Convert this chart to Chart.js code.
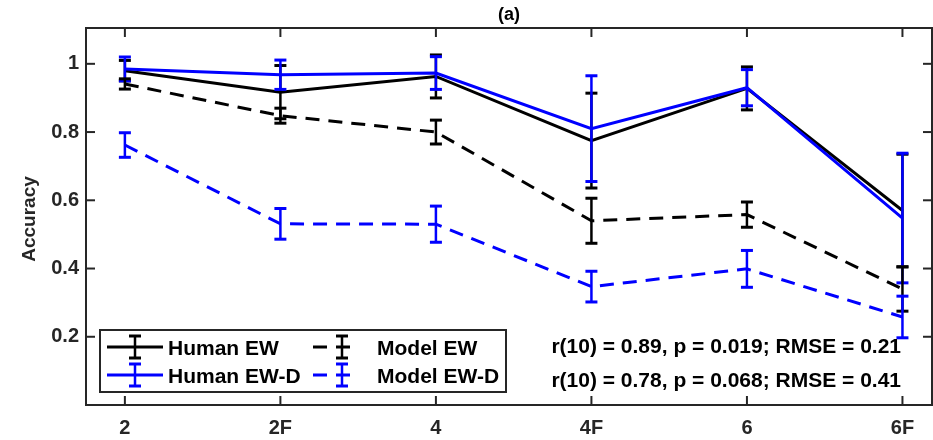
<!DOCTYPE html>
<html>
<head>
<meta charset="utf-8">
<script src="https://cdn.jsdelivr.net/npm/chart.js@4.4.1/dist/chart.umd.min.js"></script>
<style>
  html, body { margin: 0; padding: 0; background: #fff; }
  canvas { display: block; }
</style>
</head>
<body>
<canvas id="accChart" width="933" height="440"></canvas>
<script>
// data
const categories = ['2', '2F', '4', '4F', '6', '6F'];
const yTicks = [0.2, 0.4, 0.6, 0.8, 1];

const humanEW      = [0.980, 0.917, 0.963, 0.775, 0.928, 0.570];
const humanEWErr   = [0.030, 0.078, 0.063, 0.139, 0.063, 0.165];
const humanEWD     = [0.985, 0.968, 0.973, 0.810, 0.930, 0.548];
const humanEWDErr  = [0.035, 0.043, 0.048, 0.155, 0.053, 0.190];
const modelEW      = [0.941, 0.848, 0.800, 0.540, 0.558, 0.340];
const modelEWErr   = [0.015, 0.022, 0.035, 0.066, 0.037, 0.065];
const modelEWD     = [0.762, 0.531, 0.530, 0.347, 0.399, 0.258];
const modelEWDErr  = [0.036, 0.045, 0.053, 0.045, 0.054, 0.061];

const statLines = [
  'r(10) = 0.89, p = 0.019; RMSE = 0.21',
  'r(10) = 0.78, p = 0.068; RMSE = 0.41'
];

const FONT = '"Liberation Sans", Arial, Helvetica, sans-serif';
const AXIS_COLOR = '#262626';
const DASH = [14, 9];

function pts(vals) {
  return vals.map((v, i) => ({x: i, y: v}));
}

function makeSet(label, vals, errs, color, dashed, order) {
  return {
    label: label,
    data: pts(vals),
    errors: errs,
    borderColor: color,
    backgroundColor: color,
    borderWidth: 3,
    borderDash: dashed ? DASH : [],
    pointRadius: 0,
    tension: 0,
    order: order
  };
}

const datasets = [
  makeSet('Human EW', humanEW, humanEWErr, '#000000', false, 4),
  makeSet('Human EW-D', humanEWD, humanEWDErr, '#0000ff', false, 3),
  makeSet('Model EW', modelEW, modelEWErr, '#000000', true, 2),
  makeSet('Model EW-D', modelEWD, modelEWDErr, '#0000ff', true, 1)
];

function seg(ctx, x1, y1, x2, y2) {
  ctx.beginPath();
  ctx.moveTo(x1, y1);
  ctx.lineTo(x2, y2);
  ctx.stroke();
}

function drawErrBar(ctx, x, yHi, yLo, color) {
  ctx.save();
  ctx.strokeStyle = color;
  ctx.setLineDash([]);
  ctx.lineWidth = 2.5;
  seg(ctx, x, yHi, x, yLo);
  ctx.lineWidth = 3;
  seg(ctx, x - 6, yHi, x + 6, yHi);
  seg(ctx, x - 6, yLo, x + 6, yLo);
  ctx.restore();
}

const errorBars = {
  id: 'errorBars',
  afterDatasetDraw(chart, args) {
    const ds = chart.data.datasets[args.index];
    const yScale = chart.scales.y;
    args.meta.data.forEach((pt, i) => {
      const v = ds.data[i].y;
      const e = ds.errors[i];
      drawErrBar(chart.ctx, pt.x, yScale.getPixelForValue(v + e), yScale.getPixelForValue(v - e), ds.borderColor);
    });
  }
};

const frame = {
  id: 'frame',
  afterDraw(chart) {
    const ctx = chart.ctx;
    const a = chart.chartArea;
    const xs = chart.scales.x, ys = chart.scales.y;
    ctx.save();

    // box + inward ticks
    ctx.strokeStyle = AXIS_COLOR;
    ctx.lineWidth = 2;
    ctx.strokeRect(a.left, a.top, a.right - a.left, a.bottom - a.top);
    categories.forEach((c, i) => {
      const x = xs.getPixelForValue(i);
      seg(ctx, x, a.bottom, x, a.bottom - 9);
      seg(ctx, x, a.top, x, a.top + 9);
    });
    yTicks.forEach(v => {
      const y = ys.getPixelForValue(v);
      seg(ctx, a.left, y, a.left + 9, y);
      seg(ctx, a.right, y, a.right - 9, y);
    });

    // title
    ctx.fillStyle = '#000';
    ctx.font = 'bold 18px ' + FONT;
    ctx.textAlign = 'center';
    ctx.textBaseline = 'middle';
    ctx.fillText('(a)', (a.left + a.right) / 2, 15);

    // y label
    ctx.save();
    ctx.translate(30, 219);
    ctx.rotate(-Math.PI / 2);
    ctx.font = 'bold 19px ' + FONT;
    ctx.fillStyle = '#262626';
    ctx.fillText('Accuracy', 0, 0);
    ctx.restore();

    // legend
    ctx.fillStyle = '#fff';
    ctx.fillRect(100, 330, 406, 62);
    ctx.strokeStyle = AXIS_COLOR;
    ctx.lineWidth = 2;
    ctx.strokeRect(100, 330, 406, 62);
    const cols = [{x0: 107, x1: 163, bar: 135, tx: 168}, {x0: 313, x1: 357, bar: 342, tx: 377}];
    const rows = [347, 375];
    chart.data.datasets.forEach((ds, k) => {
      const col = cols[Math.floor(k / 2)];
      const y = rows[k % 2];
      ctx.save();
      ctx.strokeStyle = ds.borderColor;
      ctx.lineWidth = 3;
      ctx.setLineDash(ds.borderDash);
      seg(ctx, col.x0, y, col.x1, y);
      ctx.restore();
      drawErrBar(ctx, col.bar, y - 11, y + 11, ds.borderColor);
      ctx.fillStyle = '#000';
      ctx.font = 'bold 21px ' + FONT;
      ctx.textAlign = 'left';
      ctx.textBaseline = 'alphabetic';
      ctx.fillText(ds.label, col.tx, y + 8);
    });

    // stats text
    ctx.font = 'bold 21px ' + FONT;
    ctx.textAlign = 'right';
    ctx.textBaseline = 'alphabetic';
    ctx.fillStyle = '#000';
    ctx.fillText(statLines[0], 901, 353);
    ctx.fillText(statLines[1], 901, 387);

    ctx.restore();
  }
};

new Chart(document.getElementById('accChart'), {
  type: 'line',
  data: {datasets: datasets},
  options: {
    responsive: false,
    animation: false,
    devicePixelRatio: 1,
    layout: {padding: {top: 28, right: 1, left: 0, bottom: 0}},
    plugins: {legend: {display: false}, tooltip: {enabled: false}},
    scales: {
      x: {
        type: 'linear',
        min: -0.25,
        max: 5.19,
        grid: {display: false, drawTicks: false},
        border: {display: false},
        afterBuildTicks: s => { s.ticks = categories.map((c, i) => ({value: i})); },
        afterFit: s => { s.height = 35; },
        ticks: {
          callback: v => categories[v],
          color: '#262626',
          font: {family: FONT, size: 20, weight: 'bold'},
          padding: 11,
          maxRotation: 0,
          autoSkip: false
        }
      },
      y: {
        min: 0,
        max: 1.105,
        grid: {display: false, drawTicks: false},
        border: {display: false},
        afterBuildTicks: s => { s.ticks = yTicks.map(v => ({value: v})); },
        afterFit: s => { s.width = 86; },
        ticks: {
          callback: v => String(v),
          color: '#262626',
          font: {family: FONT, size: 20, weight: 'bold'},
          padding: 7
        }
      }
    }
  },
  plugins: [errorBars, frame]
});
</script>
</body>
</html>
